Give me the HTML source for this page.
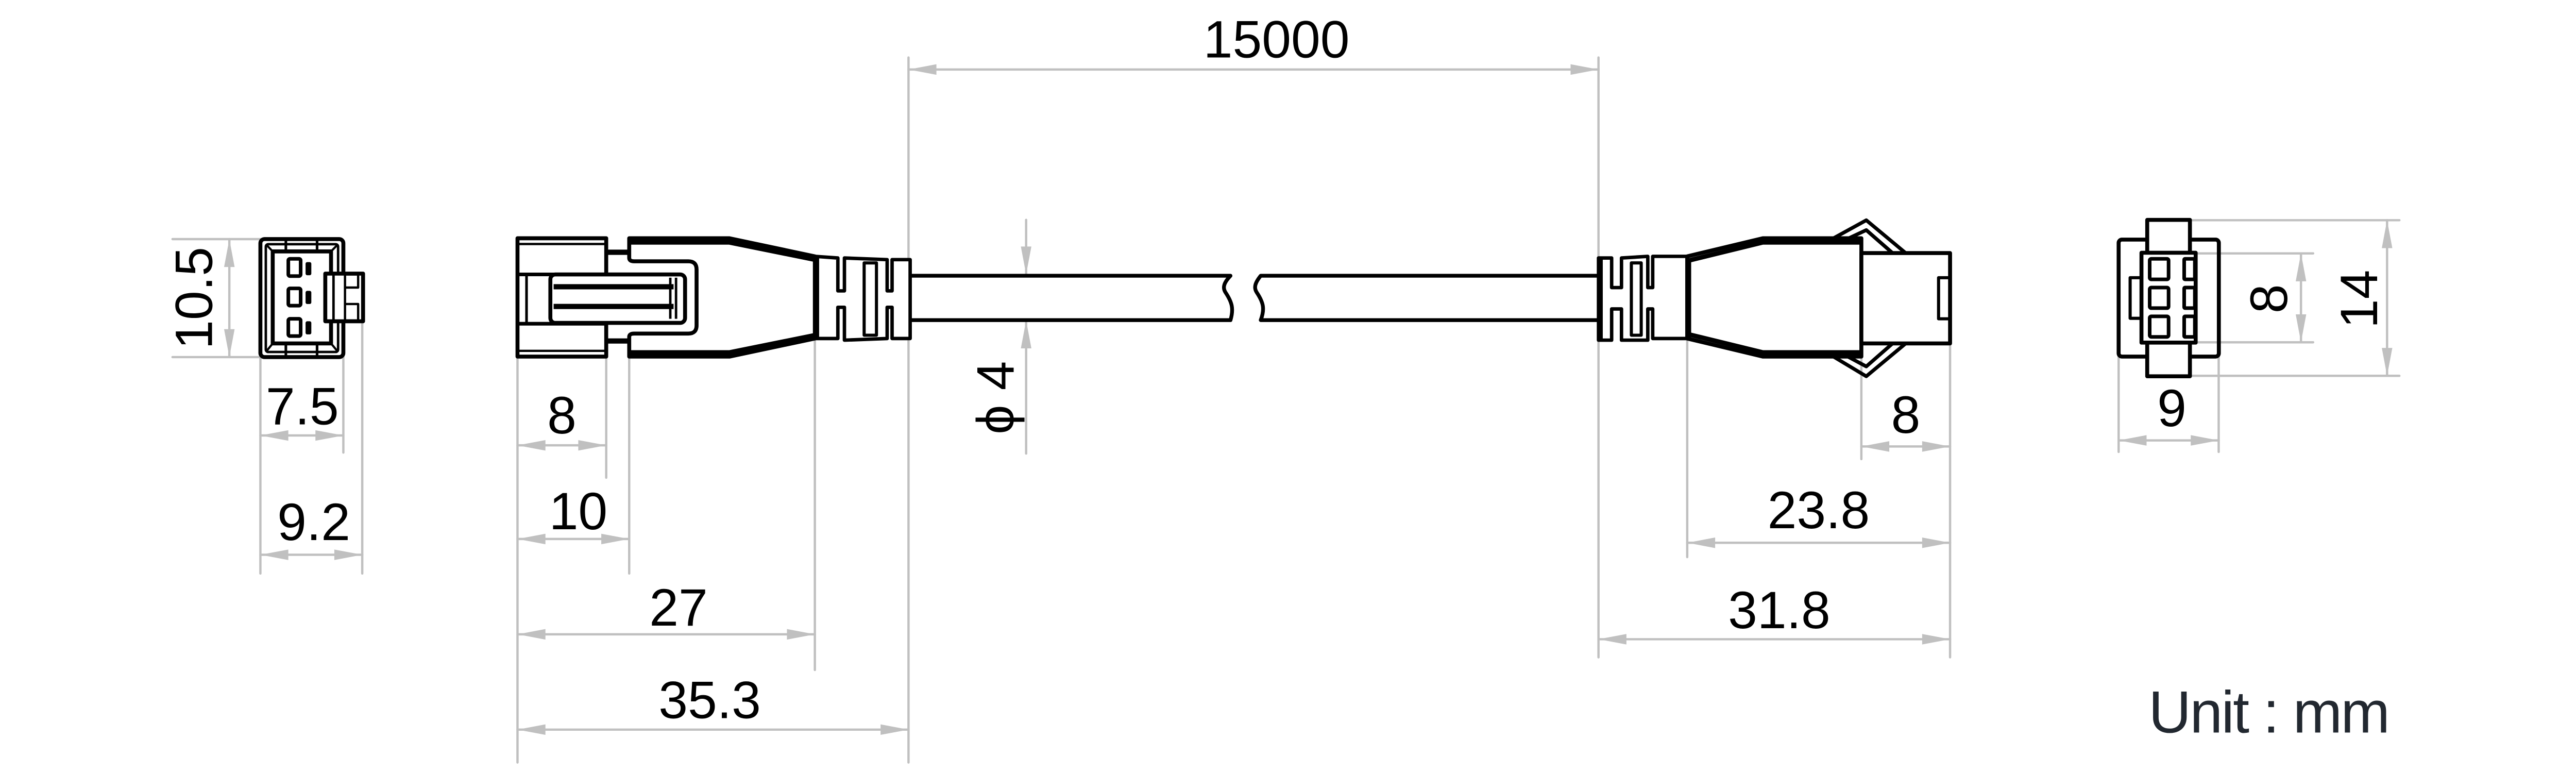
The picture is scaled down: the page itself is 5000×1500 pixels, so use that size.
<!DOCTYPE html>
<html><head><meta charset="utf-8"><style>html,body{margin:0;padding:0;background:#fff}svg{display:block}</style></head>
<body>
<svg width="5000" height="1500" viewBox="0 0 1568 470.4" xmlns="http://www.w3.org/2000/svg" font-family="Liberation Sans, Arial, sans-serif">
<rect width="1568" height="470.4" fill="#fff"/>
<defs>
<path id="ar" d="M0 0 L17 -3.2 L17 3.2 Z" fill="#c0c0c0"/>
</defs>
<g stroke="#c0c0c0" stroke-width="1.4" fill="none" stroke-linecap="round">
 <line x1="105" y1="145.5" x2="162" y2="145.5"/><line x1="105" y1="217.3" x2="162" y2="217.3"/>
 <line x1="139.6" y1="145.5" x2="139.6" y2="217.3"/>
 <line x1="158.5" y1="213" x2="158.5" y2="349"/><line x1="209" y1="213" x2="209" y2="275.4"/><line x1="220.5" y1="190" x2="220.5" y2="349"/>
 <line x1="158.5" y1="265" x2="209" y2="265"/><line x1="158.5" y1="337.6" x2="220.5" y2="337.6"/>
 <line x1="315" y1="215" x2="315" y2="464"/><line x1="369" y1="215" x2="369" y2="290.7"/>
 <line x1="383" y1="215" x2="383" y2="349"/><line x1="496" y1="204" x2="496" y2="407.7"/>
 <line x1="553" y1="35" x2="553" y2="157"/><line x1="553" y1="205" x2="553" y2="464"/>
 <line x1="315" y1="271" x2="369" y2="271"/><line x1="315" y1="328" x2="383" y2="328"/>
 <line x1="315" y1="386" x2="496" y2="386"/><line x1="315" y1="444" x2="553" y2="444"/>
 <line x1="553" y1="42.3" x2="973" y2="42.3"/>
 <line x1="973" y1="35" x2="973" y2="157"/><line x1="973" y1="205" x2="973" y2="400"/>
 <line x1="624.6" y1="133.8" x2="624.6" y2="167"/><line x1="624.6" y1="195" x2="624.6" y2="276"/>
 <line x1="1027" y1="205" x2="1027" y2="339"/><line x1="1133" y1="215" x2="1133" y2="279.4"/><line x1="1187" y1="207" x2="1187" y2="400"/>
 <line x1="1133" y1="271.7" x2="1187" y2="271.7"/><line x1="1027" y1="330.3" x2="1187" y2="330.3"/><line x1="973" y1="389" x2="1187" y2="389"/>
 <line x1="1336" y1="154.2" x2="1408" y2="154.2"/><line x1="1336" y1="208.3" x2="1408" y2="208.3"/>
 <line x1="1400.6" y1="154.2" x2="1400.6" y2="208.3"/>
 <line x1="1333" y1="134" x2="1460.5" y2="134"/><line x1="1333" y1="228.7" x2="1460.5" y2="228.7"/>
 <line x1="1453" y1="134" x2="1453" y2="228.7"/>
 <line x1="1289.6" y1="214" x2="1289.6" y2="275"/><line x1="1350.5" y1="214" x2="1350.5" y2="275"/>
 <line x1="1289.6" y1="268" x2="1350.5" y2="268"/>
</g>
<g>
 <use href="#ar" transform="translate(139.6 145.5) rotate(90)"/><use href="#ar" transform="translate(139.6 217.3) rotate(-90)"/>
 <use href="#ar" transform="translate(158.5 265)"/><use href="#ar" transform="translate(209 265) rotate(180)"/>
 <use href="#ar" transform="translate(158.5 337.6)"/><use href="#ar" transform="translate(220.5 337.6) rotate(180)"/>
 <use href="#ar" transform="translate(315 271)"/><use href="#ar" transform="translate(369 271) rotate(180)"/>
 <use href="#ar" transform="translate(315 328)"/><use href="#ar" transform="translate(383 328) rotate(180)"/>
 <use href="#ar" transform="translate(315 386)"/><use href="#ar" transform="translate(496 386) rotate(180)"/>
 <use href="#ar" transform="translate(315 444)"/><use href="#ar" transform="translate(553 444) rotate(180)"/>
 <use href="#ar" transform="translate(553 42.3)"/><use href="#ar" transform="translate(973 42.3) rotate(180)"/>
 <use href="#ar" transform="translate(624.6 167) rotate(-90)"/><use href="#ar" transform="translate(624.6 195) rotate(90)"/>
 <use href="#ar" transform="translate(1133 271.7)"/><use href="#ar" transform="translate(1187 271.7) rotate(180)"/>
 <use href="#ar" transform="translate(1027 330.3)"/><use href="#ar" transform="translate(1187 330.3) rotate(180)"/>
 <use href="#ar" transform="translate(973 389)"/><use href="#ar" transform="translate(1187 389) rotate(180)"/>
 <use href="#ar" transform="translate(1400.6 154.2) rotate(90)"/><use href="#ar" transform="translate(1400.6 208.3) rotate(-90)"/>
 <use href="#ar" transform="translate(1453 134) rotate(90)"/><use href="#ar" transform="translate(1453 228.7) rotate(-90)"/>
 <use href="#ar" transform="translate(1289.6 268)"/><use href="#ar" transform="translate(1350.5 268) rotate(180)"/>
</g>
<g fill="#000" font-size="32" text-anchor="middle">
 <text transform="translate(129 181.4) rotate(-90)">10.5</text>
 <text x="184" y="258.2">7.5</text>
 <text x="191" y="328.7">9.2</text>
 <text x="342" y="263.7">8</text>
 <text x="352" y="322">10</text>
 <text x="413" y="380.7">27</text>
 <text x="432" y="437">35.3</text>
 <text x="777" y="35">15000</text>
 <text transform="translate(617 242) rotate(-90)">ϕ 4</text>
 <text x="1160" y="263.4">8</text>
 <text x="1107" y="321.5">23.8</text>
 <text x="1083" y="382.3">31.8</text>
 <text x="1322" y="259.3">9</text>
 <text transform="translate(1392 181.8) rotate(-90)">8</text>
 <text transform="translate(1447 182) rotate(-90)">14</text>
</g>
<text x="1307.8" y="445.8" font-size="36" fill="#222830" textLength="147" lengthAdjust="spacing">Unit : mm</text>
<g stroke="#000" stroke-width="2.2" fill="none" stroke-linejoin="round">
 <rect x="158.5" y="145.5" width="50.5" height="71.8" rx="2.5" stroke-width="2.4"/>
 <rect x="161.8" y="148.6" width="44" height="65.6" rx="1.5" stroke-width="1.5"/>
 <rect x="166" y="153" width="35.5" height="56" stroke-width="2.4"/>
 <line x1="161.8" y1="148.6" x2="166" y2="153" stroke-width="1.3"/><line x1="205.8" y1="148.6" x2="201.5" y2="153" stroke-width="1.3"/>
 <line x1="161.8" y1="214.2" x2="166" y2="209" stroke-width="1.3"/><line x1="205.8" y1="214.2" x2="201.5" y2="209" stroke-width="1.3"/>
 <line x1="174" y1="146" x2="174" y2="153" stroke-width="1.6"/><line x1="193" y1="146" x2="193" y2="153" stroke-width="1.6"/>
 <line x1="174" y1="209" x2="174" y2="217" stroke-width="1.6"/><line x1="193" y1="209" x2="193" y2="217" stroke-width="1.6"/>
 <rect x="175.5" y="157.5" width="7.5" height="10.5" rx="1"/>
 <rect x="175.5" y="175.5" width="7.5" height="10.5" rx="1"/>
 <rect x="175.5" y="194" width="7.5" height="10.5" rx="1"/>
 <rect x="198" y="166.5" width="23" height="29" fill="#fff" stroke-width="2.4"/>
 <line x1="203" y1="167" x2="203" y2="195" stroke-width="1.5"/>
 <rect x="210" y="167" width="8" height="8" stroke-width="1.4"/>
 <rect x="210" y="185" width="8" height="10" stroke-width="1.4"/>
 <line x1="210" y1="175" x2="210" y2="185" stroke-width="1.4"/>
 <rect x="315" y="145" width="54" height="72" stroke-width="2.4"/>
 <line x1="316" y1="148.5" x2="368" y2="148.5" stroke-width="1.4"/><line x1="316" y1="213.5" x2="368" y2="213.5" stroke-width="1.4"/>
 <line x1="315" y1="167" x2="369" y2="167"/><line x1="315" y1="197" x2="369" y2="197"/>
 <line x1="320.5" y1="167" x2="320.5" y2="197" stroke-width="1.6"/>
 <line x1="369" y1="153.5" x2="383" y2="153.5" stroke-width="3.2"/><line x1="369" y1="207.5" x2="383" y2="207.5" stroke-width="3.2"/>
 <path d="M383 145 L444 145 L496 156 L496 206 L444 217 L383 217 L383 205 Q383 203 386 203 L419 203 Q424 203 424 198 L424 164 Q424 159 419 159 L386 159 Q383 159 383 157 Z" fill="#fff" stroke-width="2.4"/>
 <path d="M383 147.5 L444 147.5 L496 158" stroke-width="2.8"/>
 <path d="M383 214.5 L444 214.5 L496 204" stroke-width="2.8"/>
 <rect x="335" y="167" width="82" height="29.5" rx="3" fill="#fff" stroke-width="2.4"/>
 <line x1="337" y1="174.5" x2="410" y2="174.5" stroke-width="3.2"/><line x1="337" y1="186.5" x2="410" y2="186.5" stroke-width="3.2"/>
 <line x1="408" y1="169" x2="408" y2="194" stroke-width="1.5"/><line x1="411.5" y1="169" x2="411.5" y2="194" stroke-width="1.5"/>
 <path d="M496 156 L510 157 L510 177 L514 177 L514 157 L540 158 L540 177 L543 177 L543 158 L554 158 L554 206 L543 206 L543 187 L540 187 L540 206 L514 207 L514 187 L510 187 L510 206 L496 206 Z" fill="#fff" stroke-width="2.1"/>
 <line x1="497" y1="156" x2="497" y2="206" stroke-width="3.2"/>
 <rect x="526" y="160" width="7.5" height="44" stroke-width="1.9"/>
 <path d="M554 167.8 L749 167.8 C745 172 744 175 746 178 C750 184 751 188 749 194.8 L554 194.8" stroke-width="2.3"/>
 <path d="M973 167.8 L767.4 167.8 C764 172 763 175 765 178 C769 184 770 188 767.4 194.8 L973 194.8" stroke-width="2.3"/>
 <path d="M973 157 L981 157 L981 175 L987 175 L987 157 L1003 156 L1003 175 L1006 175 L1006 156 L1027 156 L1027 206 L1006 206 L1006 188 L1003 188 L1003 207 L987 207 L987 188 L981 188 L981 207 L973 207 Z" fill="#fff" stroke-width="2.1"/>
 <line x1="974" y1="157" x2="974" y2="207" stroke-width="3.2"/>
 <rect x="993" y="160" width="6" height="44" stroke-width="1.9"/>
 <path d="M1116 145 L1136 134 L1160 154"/>
 <path d="M1121 147 L1136 140 L1152 154"/>
 <path d="M1116 217 L1136 229 L1160 209"/>
 <path d="M1121 215 L1136 223 L1152 209"/>
 <path d="M1027 156 L1073 145 L1133 145 L1133 217 L1073 217 L1027 206 Z" fill="#fff" stroke-width="2.4"/>
 <path d="M1028 158.5 L1073 147.5 L1132 147.5" stroke-width="2.8"/>
 <path d="M1028 203.5 L1073 214.5 L1132 214.5" stroke-width="2.8"/>
 <line x1="1028" y1="157" x2="1028" y2="206" stroke-width="2.8"/>
 <rect x="1133" y="154" width="54" height="55" fill="#fff" stroke-width="2.4"/>
 <rect x="1180" y="169" width="7" height="25" stroke-width="1.9"/>
 <rect x="1289.6" y="145.8" width="61" height="71.2" rx="2" stroke-width="2.4"/>
 <rect x="1307" y="133.8" width="26" height="95.2" fill="#fff" stroke-width="2.4"/>
 <rect x="1303.5" y="153.8" width="33" height="54.7" fill="#fff" stroke-width="2.4"/>
 <rect x="1296.6" y="169" width="6.9" height="24.7" stroke-width="1.9"/>
 <rect x="1308.5" y="157.5" width="11.5" height="12.5" rx="1"/>
 <rect x="1308.5" y="175" width="11.5" height="12.5" rx="1"/>
 <rect x="1308.5" y="192.5" width="11.5" height="12.5" rx="1"/>
 <rect x="1329.5" y="157.5" width="6.5" height="12.5" rx="0.5"/>
 <rect x="1329.5" y="175" width="6.5" height="12.5" rx="0.5"/>
 <rect x="1329.5" y="192.5" width="6.5" height="12.5" rx="0.5"/>
</g>
<g fill="#000">
 <rect x="186" y="159.5" width="3.5" height="8" rx="1"/>
 <rect x="186" y="177" width="3.5" height="8" rx="1"/>
 <rect x="186" y="195.5" width="3.5" height="8" rx="1"/>
</g>
</svg>
</body></html>
